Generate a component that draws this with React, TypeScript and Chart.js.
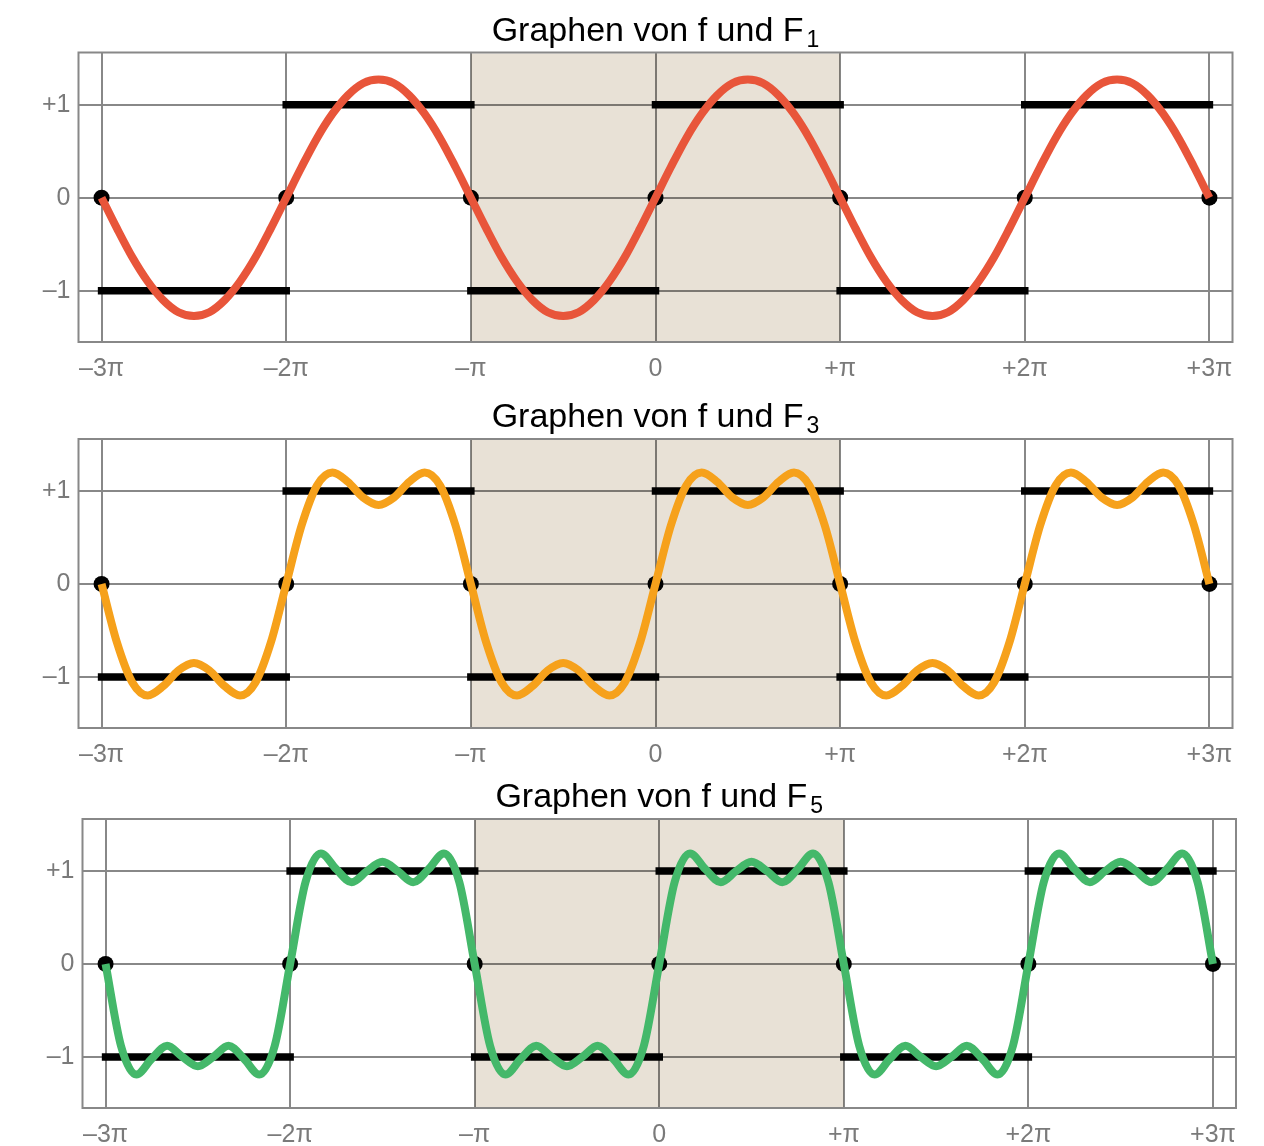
import React, { useEffect, useRef } from "react";
import { Chart, registerables } from "chart.js";

Chart.register(...registerables);

// x positions are in multiples of π
const X_TICKS = [-3, -2, -1, 0, 1, 2, 3];
const X_TICK_LABELS = ["–3π", "–2π", "–π", "0", "+π", "+2π", "+3π"];
const Y_TICKS = [-1, 0, 1];
const Y_TICK_LABELS = ["–1", "0", "+1"];
const X_MIN = -3.125;
const X_MAX = 3.125;
const Y_MIN = -1.55;
const Y_MAX = 1.56;
const SAMPLE_START = -3;
const SAMPLES_PER_PI = 12;

const F1 = [
  0, -0.33, -0.64, -0.9, -1.1, -1.23, -1.27, -1.23, -1.1, -0.9, -0.64, -0.33,
  0, 0.33, 0.64, 0.9, 1.1, 1.23, 1.27, 1.23, 1.1, 0.9, 0.64, 0.33,
  0, -0.33, -0.64, -0.9, -1.1, -1.23, -1.27, -1.23, -1.1, -0.9, -0.64, -0.33,
  0, 0.33, 0.64, 0.9, 1.1, 1.23, 1.27, 1.23, 1.1, 0.9, 0.64, 0.33,
  0, -0.33, -0.64, -0.9, -1.1, -1.23, -1.27, -1.23, -1.1, -0.9, -0.64, -0.33,
  0, 0.33, 0.64, 0.9, 1.1, 1.23, 1.27, 1.23, 1.1, 0.9, 0.64, 0.33,
  0,
];
const F3 = [
  0, -0.63, -1.06, -1.2, -1.1, -0.93, -0.85, -0.93, -1.1, -1.2, -1.06, -0.63,
  0, 0.63, 1.06, 1.2, 1.1, 0.93, 0.85, 0.93, 1.1, 1.2, 1.06, 0.63,
  0, -0.63, -1.06, -1.2, -1.1, -0.93, -0.85, -0.93, -1.1, -1.2, -1.06, -0.63,
  0, 0.63, 1.06, 1.2, 1.1, 0.93, 0.85, 0.93, 1.1, 1.2, 1.06, 0.63,
  0, -0.63, -1.06, -1.2, -1.1, -0.93, -0.85, -0.93, -1.1, -1.2, -1.06, -0.63,
  0, 0.63, 1.06, 1.2, 1.1, 0.93, 0.85, 0.93, 1.1, 1.2, 1.06, 0.63,
  0,
];
const F5 = [
  0, -0.88, -1.19, -1.02, -0.88, -1.0, -1.1, -1.0, -0.88, -1.02, -1.19, -0.88,
  0, 0.88, 1.19, 1.02, 0.88, 1.0, 1.1, 1.0, 0.88, 1.02, 1.19, 0.88,
  0, -0.88, -1.19, -1.02, -0.88, -1.0, -1.1, -1.0, -0.88, -1.02, -1.19, -0.88,
  0, 0.88, 1.19, 1.02, 0.88, 1.0, 1.1, 1.0, 0.88, 1.02, 1.19, 0.88,
  0, -0.88, -1.19, -1.02, -0.88, -1.0, -1.1, -1.0, -0.88, -1.02, -1.19, -0.88,
  0, 0.88, 1.19, 1.02, 0.88, 1.0, 1.1, 1.0, 0.88, 1.02, 1.19, 0.88,
  0,
];

// square wave f: [from, to, level]
const SQUARE_FROM = [-3, -2, -1, 0, 1, 2];
const SQUARE_TO = [-2, -1, 0, 1, 2, 3];
const SQUARE_LEVEL = [-1, 1, -1, 1, -1, 1];
// jump points where f = 0
const JUMP_X = [-3, -2, -1, 0, 1, 2, 3];
const JUMP_Y = [0, 0, 0, 0, 0, 0, 0];

const SHADE_FROM = -1;
const SHADE_TO = 1;

const TITLE_MAIN = "Graphen von f und F";
const TITLE_SUBS = ["1", "3", "5"];
const SERIES = [F1, F3, F5];
const COLORS = ["#e8553a", "#f6a11b", "#44b86a"];

// plot-area boxes (page pixels): top, bottom, left, right
const PANELS = [
  { top: 52.5, bottom: 342, left: 78.5, right: 1232.5 },
  { top: 439, bottom: 728, left: 78.5, right: 1232.5 },
  { top: 819, bottom: 1108, left: 82.5, right: 1236 },
];

const GRID = "#888888";
const LABEL = "#7a7a7a";
const SHADE = "#e8e1d6";
const FONT = '"Liberation Sans", Arial, Helvetica, sans-serif';
const PAGE_W = 1264;
const PAGE_H = 1146;
const TITLE_SPACE = 50;
const AXIS_SPACE = 38;

function Panel({ idx }: { idx: number }) {
  const ref = useRef<HTMLCanvasElement | null>(null);
  const box = PANELS[idx];
  const canvasTop = Math.floor(box.top - TITLE_SPACE);
  const padTop = box.top - canvasTop;
  const plotH = box.bottom - box.top;
  const canvasH = Math.ceil(padTop + plotH + AXIS_SPACE);
  const axisH = canvasH - padTop - plotH;

  useEffect(() => {
    const canvas = ref.current;
    if (!canvas) return;
    const curve = SERIES[idx].map((y, i) => ({ x: SAMPLE_START + i / SAMPLES_PER_PI, y }));
    const square: { x: number; y: number | null }[] = [];
    SQUARE_FROM.forEach((from, i) => {
      if (i > 0) square.push({ x: from, y: null });
      square.push({ x: from, y: SQUARE_LEVEL[i] });
      square.push({ x: SQUARE_TO[i], y: SQUARE_LEVEL[i] });
    });
    const dots = JUMP_X.map((x, i) => ({ x, y: JUMP_Y[i] }));

    const shadePlugin = {
      id: "shadeFrame",
      beforeDatasetsDraw(chart: any) {
        const { ctx, chartArea } = chart;
        const xs = chart.scales.x;
        const x1 = xs.getPixelForValue(SHADE_FROM);
        const x2 = xs.getPixelForValue(SHADE_TO);
        ctx.save();
        ctx.globalCompositeOperation = "multiply";
        ctx.fillStyle = SHADE;
        ctx.fillRect(x1, chartArea.top + 1, x2 - x1, chartArea.bottom - chartArea.top - 2);
        ctx.restore();
        ctx.save();
        ctx.strokeStyle = GRID;
        ctx.lineWidth = 2;
        ctx.strokeRect(chartArea.left, chartArea.top, chartArea.right - chartArea.left, chartArea.bottom - chartArea.top);
        ctx.restore();
      },
    };

    const titlePlugin = {
      id: "subTitle",
      afterDraw(chart: any) {
        const { ctx, chartArea } = chart;
        ctx.save();
        const mainFont = `34px ${FONT}`;
        const subFont = `23px ${FONT}`;
        ctx.font = mainFont;
        const wMain = ctx.measureText(TITLE_MAIN).width;
        ctx.font = subFont;
        const wSub = ctx.measureText(TITLE_SUBS[idx]).width;
        const gap = 3;
        const total = wMain + gap + wSub;
        const cx = (chartArea.left + chartArea.right) / 2;
        const x0 = cx - total / 2;
        const base = chartArea.top - 12;
        ctx.fillStyle = "#000";
        ctx.textBaseline = "alphabetic";
        ctx.textAlign = "left";
        ctx.font = mainFont;
        ctx.fillText(TITLE_MAIN, x0, base);
        ctx.font = subFont;
        ctx.fillText(TITLE_SUBS[idx], x0 + wMain + gap, base + 6);
        ctx.restore();
      },
    };

    const chart = new Chart(canvas, {
      type: "line",
      data: {
        datasets: [
          {
            data: curve,
            borderColor: COLORS[idx],
            borderWidth: 8,
            pointRadius: 0,
            cubicInterpolationMode: "monotone",
            borderCapStyle: "butt",
            order: 0,
          } as any,
          {
            data: square,
            borderColor: "#000",
            borderWidth: 7.5,
            pointRadius: 0,
            tension: 0,
            spanGaps: false,
            borderCapStyle: "square",
            order: 1,
          } as any,
          {
            data: dots,
            showLine: false,
            pointRadius: 8,
            pointBackgroundColor: "#000",
            pointBorderWidth: 0,
            order: 2,
          } as any,
        ],
      },
      options: {
        animation: false,
        responsive: false,
        events: [],
        layout: { padding: { top: padTop, left: 0, right: PAGE_W - box.right, bottom: 0 } },
        plugins: { legend: { display: false }, tooltip: { enabled: false }, title: { display: false } },
        scales: {
          x: {
            type: "linear",
            min: X_MIN,
            max: X_MAX,
            afterBuildTicks: (s: any) => {
              s.ticks = X_TICKS.map((v) => ({ value: v }));
            },
            afterFit: (s: any) => {
              s.height = axisH;
            },
            ticks: {
              autoSkip: false,
              maxRotation: 0,
              padding: 12,
              color: LABEL,
              font: { family: FONT, size: 25 },
              callback: (v: any) => {
                const i = X_TICKS.indexOf(Number(v));
                return i >= 0 ? X_TICK_LABELS[i] : "";
              },
            },
            grid: { color: GRID, lineWidth: 2, drawTicks: false },
            border: { display: false },
          },
          y: {
            type: "linear",
            min: Y_MIN,
            max: Y_MAX,
            afterBuildTicks: (s: any) => {
              s.ticks = Y_TICKS.map((v) => ({ value: v }));
            },
            afterFit: (s: any) => {
              s.width = box.left;
            },
            ticks: {
              autoSkip: false,
              padding: 8,
              color: LABEL,
              font: { family: FONT, size: 25 },
              callback: (v: any) => {
                const i = Y_TICKS.indexOf(Number(v));
                return i >= 0 ? Y_TICK_LABELS[i] : "";
              },
            },
            grid: { color: GRID, lineWidth: 2, drawTicks: false },
            border: { display: false },
          },
        },
      } as any,
      plugins: [shadePlugin, titlePlugin],
    });
    return () => chart.destroy();
  }, [idx]);

  return (
    <canvas
      ref={ref}
      width={PAGE_W}
      height={canvasH}
      style={{ position: "absolute", left: 0, top: canvasTop, width: PAGE_W, height: canvasH }}
    />
  );
}

export default function App() {
  return (
    <div
      style={{
        position: "absolute",
        left: 0,
        top: 0,
        width: PAGE_W,
        height: PAGE_H,
        overflow: "hidden",
        background: "#fff",
      }}
    >
      {PANELS.map((_, i) => (
        <Panel key={i} idx={i} />
      ))}
    </div>
  );
}
